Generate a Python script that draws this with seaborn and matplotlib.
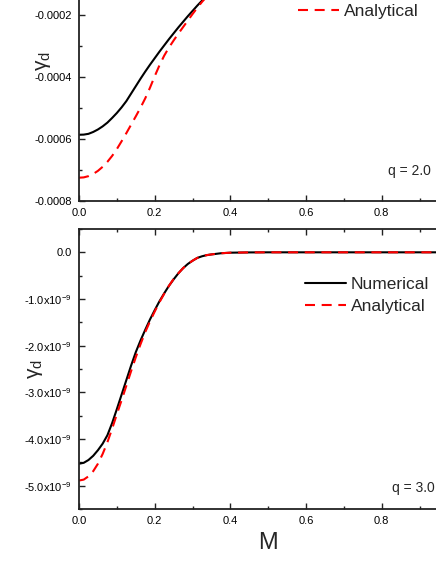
import matplotlib
matplotlib.use("Agg")
import matplotlib.pyplot as plt
from matplotlib.ticker import MultipleLocator, FuncFormatter
import seaborn as sns

# values (gamma_d vs M)
m_top = [0.0, 0.0125, 0.025, 0.0375, 0.05, 0.0625, 0.075, 0.0875, 0.10, 0.1125,
         0.125, 0.1375, 0.15, 0.1625, 0.175, 0.1875, 0.20, 0.2125, 0.225, 0.2375,
         0.25, 0.2625, 0.275, 0.2875, 0.30, 0.3125, 0.325, 0.3375, 0.35, 0.375,
         0.40, 0.45, 0.50, 0.60, 0.70, 0.80, 1.0]
num_top = [-5.86, -5.855, -5.83, -5.77, -5.69, -5.59, -5.47, -5.32, -5.16, -4.98,
           -4.78, -4.54, -4.30, -4.06, -3.83, -3.61, -3.40, -3.19, -2.99, -2.79,
           -2.60, -2.41, -2.23, -2.05, -1.88, -1.71, -1.55, -1.40, -1.26, -1.00,
           -0.78, -0.45, -0.24, -0.06, -0.01, 0.0, 0.0]
ana_top = [-7.24, -7.23, -7.19, -7.12, -7.02, -6.89, -6.73, -6.54, -6.32, -6.07,
           -5.81, -5.54, -5.27, -4.99, -4.69, -4.35, -3.98, -3.63, -3.32, -3.06,
           -2.83, -2.61, -2.40, -2.19, -1.98, -1.78, -1.59, -1.42, -1.27, -1.00,
           -0.78, -0.45, -0.24, -0.06, -0.01, 0.0, 0.0]

m_bot = [0.0, 0.0125, 0.025, 0.0375, 0.05, 0.0625, 0.075, 0.0875, 0.10, 0.1125,
         0.125, 0.1375, 0.15, 0.1625, 0.175, 0.1875, 0.20, 0.2125, 0.225, 0.2375,
         0.25, 0.2625, 0.275, 0.2875, 0.30, 0.3125, 0.325, 0.3375, 0.35, 0.375,
         0.40, 0.45, 0.50, 0.60, 0.80, 1.0]
num_bot = [-4.53, -4.51, -4.45, -4.36, -4.24, -4.10, -3.92, -3.66, -3.36, -3.05,
           -2.74, -2.43, -2.14, -1.89, -1.66, -1.44, -1.24, -1.05, -0.88, -0.72,
           -0.58, -0.45, -0.34, -0.25, -0.18, -0.12, -0.085, -0.06, -0.045, -0.02,
           -0.008, -0.002, 0.0, 0.0, 0.0, 0.0]
ana_bot = [-4.89, -4.87, -4.80, -4.69, -4.53, -4.32, -4.07, -3.78, -3.47, -3.17,
           -2.86, -2.55, -2.25, -1.97, -1.71, -1.48, -1.27, -1.07, -0.89, -0.72,
           -0.57, -0.45, -0.34, -0.25, -0.18, -0.12, -0.085, -0.06, -0.045, -0.02,
           -0.008, -0.002, 0.0, 0.0, 0.0, 0.0]

top_unit = 1e-4
bot_unit = 1e-9
series_names = ["Numerical", "Analytical"]
q_labels = ["q = 2.0", "q = 3.0"]

sns.set_style("ticks")
plt.rcParams["font.family"] = ["Liberation Sans", "DejaVu Sans"]
plt.rcParams["mathtext.fontset"] = "custom"
plt.rcParams["mathtext.rm"] = "Liberation Sans"
plt.rcParams["mathtext.it"] = "Liberation Sans:italic"


def style_axes(ax):
    for side in ["left", "bottom", "top", "right"]:
        ax.spines[side].set_linewidth(1.3)
        ax.spines[side].set_color("#222222")
    ax.tick_params(which="both", direction="in", top=True, right=True,
                   colors="#222222", labelcolor="black", labelsize=8, pad=5)
    ax.tick_params(which="major", length=4, width=1.0)
    ax.tick_params(which="minor", length=2.5, width=1.0)
    ax.set_xlim(0, 1.0)
    ax.xaxis.set_major_locator(MultipleLocator(0.2))
    ax.xaxis.set_minor_locator(MultipleLocator(0.1))
    ax.xaxis.set_major_formatter(FuncFormatter(lambda v, p: f"{v:.1f}"))


def draw_panel(ax, m, num, ana, unit):
    sns.lineplot(x=m, y=[v * unit for v in num], color="black", linewidth=1.5,
                 label=series_names[0], ax=ax)
    sns.lineplot(x=m, y=[v * unit for v in ana], color="red", linewidth=1.5,
                 linestyle=(0, (4.8, 3.2)), label=series_names[1], ax=ax)
    style_axes(ax)
    ax.set_ylabel("γ$_{\\rm d}$", fontsize=15)
    ax.set_xlabel("")


def fmt_top(v, pos):
    if abs(v) < 1e-12:
        return "0.0000"
    return f"{v:.4f}"


def fmt_bot(v, pos):
    k = round(v / 1e-9, 1)
    if abs(k) < 1e-6:
        return "0.0"
    return f"{k:.1f}x10$^{{-9}}$"


fig = plt.figure(figsize=(4.36, 5.64), dpi=100)
ax_top = fig.add_axes([0.1812, 0.643, 0.868, 0.4965])
ax_bot = fig.add_axes([0.1812, 0.0975, 0.868, 0.4965])

legend_kw = dict(loc="upper left", frameon=False, fontsize=12.5,
                 handlelength=2.36, handletextpad=0.3, labelspacing=0.4,
                 borderpad=0, borderaxespad=0)

# top panel (q = 2.0)
draw_panel(ax_top, m_top, num_top, ana_top, top_unit)
ax_top.set_ylim(-0.0008, 0.0001)
ax_top.yaxis.set_major_locator(MultipleLocator(0.0002))
ax_top.yaxis.set_minor_locator(MultipleLocator(0.0001))
ax_top.yaxis.set_major_formatter(FuncFormatter(fmt_top))
ax_top.yaxis.set_label_coords(-0.07, 0.5)
ax_top.text(0.816, -0.000704, q_labels[0], fontsize=10, va="center")
ax_top.legend(bbox_to_anchor=(0.579, 0.783), **legend_kw)

# bottom panel (q = 3.0)
draw_panel(ax_bot, m_bot, num_bot, ana_bot, bot_unit)
ax_bot.set_ylim(-5.5e-9, 0.5e-9)
ax_bot.yaxis.set_major_locator(MultipleLocator(1e-9))
ax_bot.yaxis.set_minor_locator(MultipleLocator(0.5e-9))
ax_bot.yaxis.set_major_formatter(FuncFormatter(fmt_bot))
ax_bot.yaxis.set_label_coords(-0.09, 0.5)
ax_bot.text(0.827, -5.06e-9, q_labels[1], fontsize=10, va="center")
ax_bot.set_xlabel("M", fontsize=17, labelpad=4)
ax_bot.legend(bbox_to_anchor=(0.597, 0.828), **legend_kw)

fig.savefig("out.png", dpi=100)
plt.close(fig)
